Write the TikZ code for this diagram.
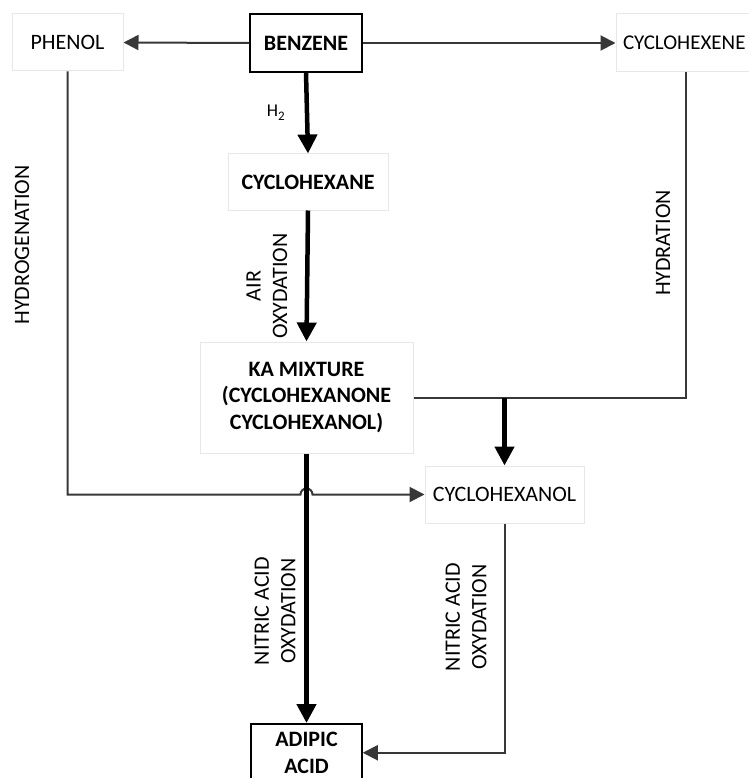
\documentclass[tikz,border=0pt]{standalone}
\usepackage{fontspec}
\setmainfont{Carlito}
\usetikzlibrary{arrows.meta,calc}
\definecolor{lightbox}{RGB}{228,231,236}
\definecolor{thinline}{RGB}{55,55,55}
\begin{document}
\begin{tikzpicture}[x=1pt,y=-1pt,
  every node/.style={font=\fontsize{22}{26.5}\selectfont, align=center, inner sep=0pt},
  bold/.style={font=\fontsize{22}{26.5}\selectfont\bfseries},
  lightbox/.style={draw=lightbox, line width=1pt, fill=white},
  darkbox/.style={draw=black, line width=1.5pt, fill=white},
  thinline/.style={draw=thinline, line width=2pt},
  thinarrow/.style={thinline, -{Triangle[length=15pt,width=15pt]}},
  thickarrow/.style={draw=black, line width=4.5pt, -{Triangle[length=19pt,width=19pt]}},
  vlabel/.style={rotate=90}
]
\useasboundingbox (0,0) rectangle (748,778);

\node[lightbox, minimum width=111, minimum height=57] (phenol) at (67.5,42.5) {PHENOL};
\node[darkbox, bold, minimum width=112, minimum height=58] (benzene) at (306,43) {BENZENE};
\node[lightbox, minimum height=58, text width=126, inner xsep=7pt, align=left, font=\fontsize{21}{26}\selectfont] (cyclohexene) at (686,43) {CYCLOHEXENE};
\node[lightbox, bold, minimum width=160, minimum height=56] (cyclohexane) at (308,182) {CYCLOHEXANE};
\node[lightbox, bold, minimum width=213, minimum height=111] (ka) at (306.5,397.5) {KA MIXTURE\\(CYCLOHEXANONE\\CYCLOHEXANOL)};
\node[lightbox, minimum width=159, minimum height=57] (cyclohexanol) at (504.5,494.5) {CYCLOHEXANOL};
\node[darkbox, bold, anchor=north, minimum width=111, minimum height=58] (adipic) at (306.5,723) {ADIPIC\\ACID};

% connectors
\draw[thinarrow] (benzene.west) -- (phenol.east);
\draw[thinarrow] (benzene.east) -- (cyclohexene.west);
\draw[thickarrow] (benzene.south) -- node[left=20pt, font=\fontsize{18}{20}\selectfont] {H\raisebox{-4pt}{\fontsize{13}{13}\selectfont 2}} (cyclohexane.north);
\draw[thickarrow] (cyclohexane.south) -- (ka.north);
\draw[thinline] (cyclohexene.south) |- (ka.east);
\draw[thickarrow] (ka.east -| cyclohexanol.north) -- (cyclohexanol.north);
\coordinate (hop) at (ka.south |- cyclohexanol.west);
\draw[thinarrow] (phenol.south) |- ($(hop)+(-6,0)$) arc[start angle=180, end angle=360, radius=6] -- (cyclohexanol.west);
\draw[thickarrow] (ka.south) -- (adipic.north);
\draw[thinarrow] (cyclohexanol.south) |- (adipic.east);

% labels
\node[vlabel] (lhydro) at (22,245) {HYDROGENATION};
\node[vlabel] (lhydra) at (663,243) {HYDRATION};
\node[vlabel] (lair) at (267,286) {AIR\\OXYDATION};
\node[vlabel] (lnit1) at (275,611) {NITRIC ACID\\OXYDATION};
\node[vlabel] (lnit2) at (466,617) {NITRIC ACID\\OXYDATION};
\end{tikzpicture}
\end{document}
